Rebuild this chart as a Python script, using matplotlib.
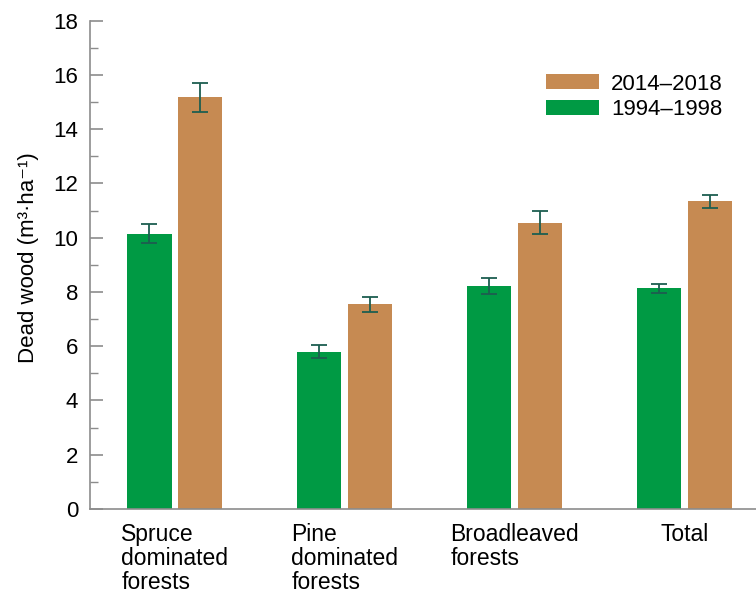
import matplotlib
matplotlib.use("Agg")
import matplotlib.pyplot as plt
from matplotlib.ticker import MultipleLocator
import numpy as np

plt.rcParams['font.family'] = ['Liberation Sans', 'DejaVu Sans']

# values
categories = ["Spruce\ndominated\nforests", "Pine\ndominated\nforests",
              "Broadleaved\nforests", "Total"]
old_vals = [10.15, 5.80, 8.23, 8.13]    # 1994-1998
old_err = [0.34, 0.24, 0.30, 0.18]
new_vals = [15.17, 7.54, 10.55, 11.34]  # 2014-2018
new_err = [0.53, 0.28, 0.42, 0.25]

green = "#009a44"
brown = "#c68a52"
errcol = "#1d5e50"
gray = "#8c8c8c"

fig = plt.figure(figsize=(7.56, 5.93), dpi=100)
ax = fig.add_axes([0.119, 0.1417, 0.881, 0.8235])

x = np.arange(len(categories))
w = 0.26
ax.bar(x - 0.15, old_vals, w, color=green, label="1994\u20131998",
       yerr=old_err, error_kw=dict(ecolor=errcol, elinewidth=1.3, capsize=5.5, capthick=1.3))
ax.bar(x + 0.15, new_vals, w, color=brown, label="2014\u20132018",
       yerr=new_err, error_kw=dict(ecolor=errcol, elinewidth=1.3, capsize=5.5, capthick=1.3))

ax.set_xlim(-0.5, 3.42)
ax.set_ylim(0, 18)
ax.yaxis.set_major_locator(MultipleLocator(2))
ax.yaxis.set_minor_locator(MultipleLocator(1))

for s in ["top", "right"]:
    ax.spines[s].set_visible(False)
for s in ["left", "bottom"]:
    ax.spines[s].set_color(gray)
    ax.spines[s].set_linewidth(1.2)

ax.tick_params(axis='y', which='major', direction='in', length=9, width=1.2,
               color=gray, labelsize=16, pad=8.5)
ax.tick_params(axis='y', which='minor', direction='in', length=6, width=1.0, color=gray)
ax.set_xticks(x)
ax.set_xticklabels(categories, fontsize=16.5, multialignment='left', linespacing=1.05)
ax.tick_params(axis='x', length=0, pad=10)

ax.set_ylabel("Dead wood (m\u00b3\u00b7ha\u207b\u00b9)", fontsize=16)
ax.yaxis.set_label_coords(-0.076, 0.515)

handles, labels = ax.get_legend_handles_labels()
fig.legend(handles[::-1], labels[::-1], loc='upper left', bbox_to_anchor=(0.722, 0.876),
           frameon=False, fontsize=16, handlelength=2.39, handleheight=0.68,
           handletextpad=0.54, labelspacing=0.2, borderpad=0, borderaxespad=0)

fig.savefig("out.png", dpi=100)
